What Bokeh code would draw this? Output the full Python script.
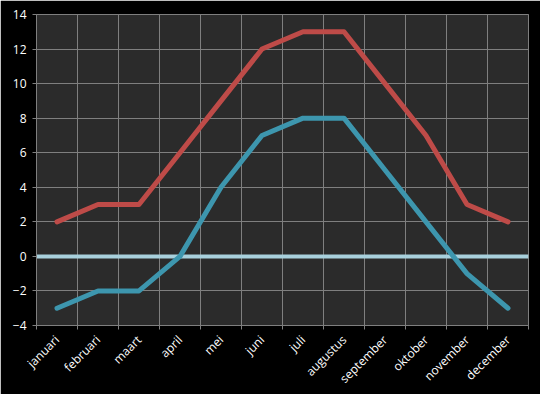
from bokeh.plotting import figure
from bokeh.models import FixedTicker, Span, Range1d
from bokeh.embed import file_html
from bokeh.resources import INLINE
import math

months = ["januari", "februari", "maart", "april", "mei", "juni", "juli",
          "augustus", "september", "oktober", "november", "december"]
max_temp = [2, 3, 3, 6, 9, 12, 13, 13, 10, 7, 3, 2]
min_temp = [-3, -2, -2, 0, 4, 7, 8, 8, 5, 2, -1, -3]
y_ticks = [-4, -2, 0, 2, 4, 6, 8, 10, 12, 14]

n = len(months)
centers = [i + 0.5 for i in range(n)]
bounds = list(range(n + 1))

p = figure(width=540, height=394, output_backend="svg", toolbar_location=None,
           x_range=Range1d(0, n), y_range=Range1d(-4, 14),
           min_border_left=36, min_border_top=14, min_border_right=12,
           min_border_bottom=10)
p.frame_width = 492
p.frame_height = 311

p.background_fill_color = "#2b2b2b"
p.border_fill_color = "#000000"
p.outline_line_color = "#7f7f7f"
p.outline_line_width = 1

p.xaxis.ticker = FixedTicker(ticks=centers, minor_ticks=bounds)
p.xaxis.major_label_overrides = {c: m for c, m in zip(centers, months)}
p.xaxis.major_label_orientation = math.pi / 4
p.xaxis.major_tick_out = 0
p.xaxis.major_tick_in = 0
p.xaxis.minor_tick_out = 4
p.xaxis.minor_tick_in = 0
p.xaxis.minor_tick_line_color = "#7f7f7f"
p.xaxis.axis_line_color = "#7f7f7f"
p.xaxis.major_label_standoff = 8

p.yaxis.ticker = FixedTicker(ticks=y_ticks)
p.yaxis.major_tick_out = 4
p.yaxis.major_tick_in = 0
p.yaxis.minor_tick_line_color = None
p.yaxis.major_tick_line_color = "#7f7f7f"
p.yaxis.axis_line_color = "#7f7f7f"
p.yaxis.major_label_standoff = 6

for ax in (p.xaxis, p.yaxis):
    ax.major_label_text_color = "#ffffff"
    ax.major_label_text_font = "Open Sans"
    ax.major_label_text_font_size = "12px"

p.xgrid.ticker = FixedTicker(ticks=bounds)
p.xgrid.grid_line_color = "#7f7f7f"
p.ygrid.grid_line_color = "#7f7f7f"
p.xgrid.grid_line_width = 1
p.ygrid.grid_line_width = 1

zero = Span(location=0, dimension="width", line_color="#a8d0dc",
            line_width=4, level="underlay")
p.add_layout(zero)

p.line(centers, max_temp, line_color="#be4b48", line_width=5,
       line_cap="round", line_join="round")
p.line(centers, min_temp, line_color="#3d96ae", line_width=5,
       line_cap="round", line_join="round")

open("out.html", "w").write(file_html(p, INLINE))
